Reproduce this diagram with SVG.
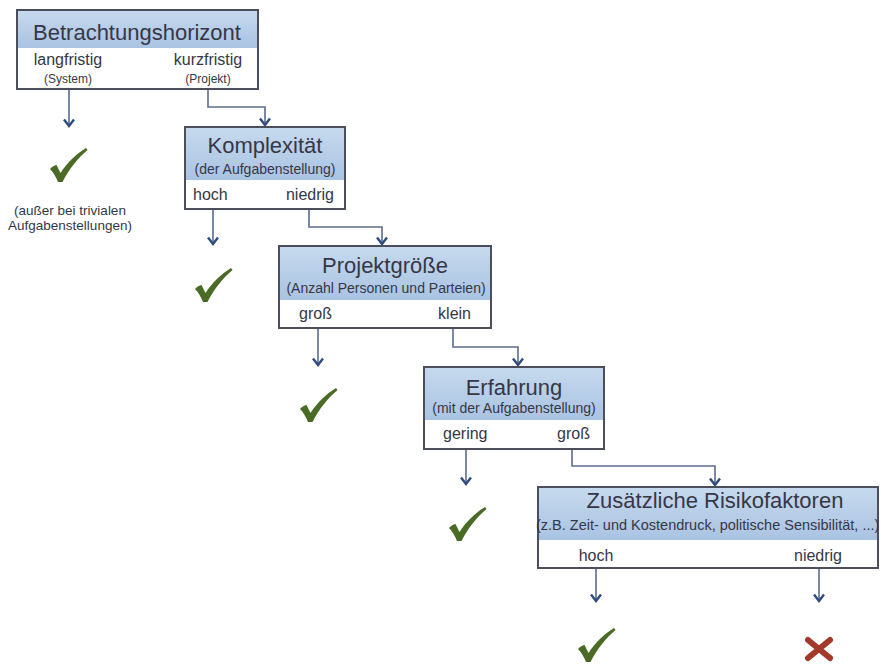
<svg xmlns="http://www.w3.org/2000/svg" width="881" height="668" viewBox="0 0 881 668">
<defs>
<linearGradient id="hdr" x1="0" y1="0" x2="0" y2="1">
<stop offset="0" stop-color="#c6d9ee"/>
<stop offset="1" stop-color="#a9c3e2"/>
</linearGradient>
<marker id="ah" viewBox="0 0 10 12" refX="8.5" refY="6" markerWidth="10" markerHeight="12" markerUnits="userSpaceOnUse" orient="auto">
<polyline points="2,1 8.5,6 2,11" fill="none" stroke="#2f4c7c" stroke-width="2.4"/>
</marker>
<path id="check" d="M0,21 C3,18 5,17 6.5,17 L10.5,25 C17,15 26,6 36,0 L37.5,2 C28,10 19,21 12.5,34 L8,34 C6,29 3,24 0,21 Z"/>
</defs>
<style>
.box{fill:#ffffff;stroke:#4d4e5c;stroke-width:2}
.hd{fill:url(#hdr)}
text{font-family:"Liberation Sans",Arial,sans-serif;fill:#363746}
.t{font-size:22px;text-anchor:middle}
.s{font-size:14px;text-anchor:middle}
.l{font-size:16px}
.m{text-anchor:middle}
.e{text-anchor:end}
.p{font-size:12px;text-anchor:middle}
.c{stroke:#5b6d8e;stroke-width:1.6;fill:none;marker-end:url(#ah)}
.ok{fill:#4a6b25}
</style>
<rect width="881" height="668" fill="#ffffff"/>
<g id="connectors">
<path class="c" d="M69,89 V126"/>
<path class="c" d="M208,89 V107 H265 V125"/>
<path class="c" d="M213,209 V244"/>
<path class="c" d="M309,209 V227 H382 V244"/>
<path class="c" d="M318,328 V365"/>
<path class="c" d="M453,328 V347 H518 V365"/>
<path class="c" d="M466,449 V484"/>
<path class="c" d="M572,449 V466 H715 V485"/>
<path class="c" d="M596,568 V601"/>
<path class="c" d="M819,568 V601"/>
</g>
<g id="betrachtungshorizont">
<rect class="box" x="17" y="10" width="241" height="79"/>
<rect class="hd" x="18" y="11" width="239" height="37"/>
<text class="t" x="137" y="40">Betrachtungshorizont</text>
<text class="l m" x="68" y="65">langfristig</text>
<text class="p" x="68" y="83">(System)</text>
<text class="l m" x="208" y="65">kurzfristig</text>
<text class="p" x="208" y="83">(Projekt)</text>
</g>
<g id="result-langfristig">
<use href="#check" class="ok" x="50" y="148"/>
<text class="m" x="70" y="215" font-size="13.5">(außer bei trivialen</text>
<text class="m" x="70" y="230" font-size="13.5">Aufgabenstellungen)</text>
</g>
<g id="komplexitaet">
<rect class="box" x="185" y="127" width="160" height="82"/>
<rect class="hd" x="186" y="128" width="158" height="52"/>
<text class="t" x="265" y="153">Komplexität</text>
<text class="s" x="265" y="174">(der Aufgabenstellung)</text>
<text class="l" x="193" y="200">hoch</text>
<text class="l e" x="334" y="200">niedrig</text>
</g>
<g id="result-komplexitaet">
<use href="#check" class="ok" x="195" y="268"/>
</g>
<g id="projektgroesse">
<rect class="box" x="279" y="246" width="212" height="82"/>
<rect class="hd" x="280" y="247" width="210" height="53"/>
<text class="t" x="385" y="273">Projektgröße</text>
<text class="s" x="386" y="293">(Anzahl Personen und Parteien)</text>
<text class="l" x="299" y="319">groß</text>
<text class="l e" x="471" y="319">klein</text>
</g>
<g id="result-projektgroesse">
<use href="#check" class="ok" x="300" y="388"/>
</g>
<g id="erfahrung">
<rect class="box" x="424" y="367" width="180" height="82"/>
<rect class="hd" x="425" y="368" width="178" height="52"/>
<text class="t" x="514" y="395">Erfahrung</text>
<text class="s" x="514" y="413">(mit der Aufgabenstellung)</text>
<text class="l" x="443" y="439">gering</text>
<text class="l e" x="590" y="439">groß</text>
</g>
<g id="result-erfahrung">
<use href="#check" class="ok" x="449" y="507"/>
</g>
<g id="risikofaktoren">
<rect class="box" x="538" y="487" width="340" height="81"/>
<rect class="hd" x="539" y="488" width="338" height="52"/>
<text class="t" x="715" y="508">Zusätzliche Risikofaktoren</text>
<text x="536" y="530" font-size="14.5">(z.B. Zeit- und Kostendruck, politische Sensibilität, ...)</text>
<text class="l m" x="596" y="561">hoch</text>
<text class="l m" x="818" y="561">niedrig</text>
</g>
<g id="result-hoch">
<use href="#check" class="ok" x="578" y="628"/>
</g>
<g id="result-niedrig">
<path d="M808,640 L830,658 M830,640 L808,658" stroke="#a3392b" stroke-width="6" stroke-linecap="round" fill="none"/>
</g>
</svg>
